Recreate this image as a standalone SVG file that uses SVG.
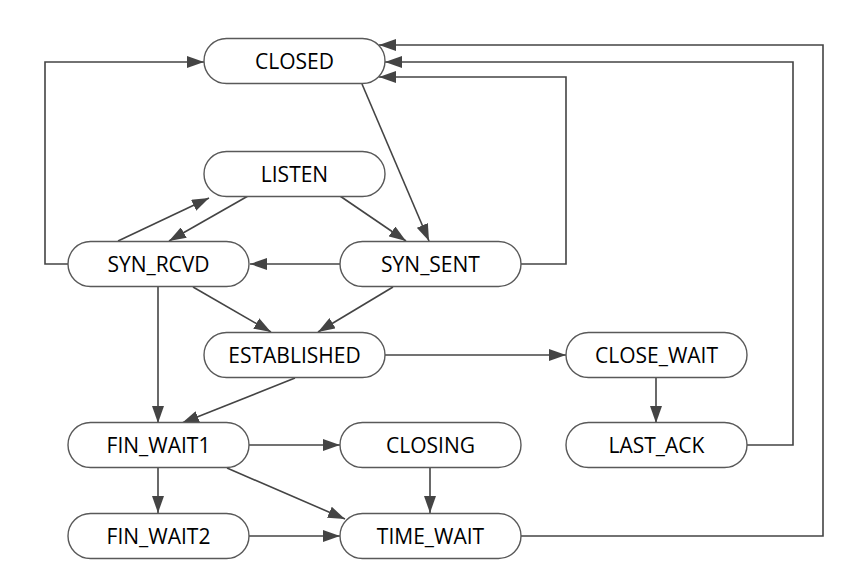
<svg xmlns="http://www.w3.org/2000/svg" width="860" height="586" viewBox="0 0 860 586">
<style>
.node rect{fill:#fff;stroke:#595959;stroke-width:1.4}
.node text{font-family:"Open Sans","Noto Sans",sans-serif;font-size:21px;fill:#000;text-anchor:middle}
.edges path{fill:none;stroke:#444;stroke-width:1.6}
</style>
<defs>
<marker id="arr" markerUnits="userSpaceOnUse" markerWidth="17" markerHeight="12" refX="17" refY="6" orient="auto">
<path d="M0,0 L17,6 L0,12 z" fill="#444"/>
</marker>
</defs>
<rect width="860" height="586" fill="#fff"/>
<g class="edges" marker-end="url(#arr)">
<path d="M362,84 L429,241" marker-end="url(#arr)"/>
<path d="M340,196 L406,241" marker-end="url(#arr)"/>
<path d="M118,241 L209,198" marker-end="url(#arr)"/>
<path d="M248,196 L169,241" marker-end="url(#arr)"/>
<path d="M340,264 L250,264" marker-end="url(#arr)"/>
<path d="M193,287 L271,332" marker-end="url(#arr)"/>
<path d="M393,287 L318,332" marker-end="url(#arr)"/>
<path d="M158,287 L158,423" marker-end="url(#arr)"/>
<path d="M295,378 L182,423" marker-end="url(#arr)"/>
<path d="M385,355 L566,355" marker-end="url(#arr)"/>
<path d="M656,378 L656,423" marker-end="url(#arr)"/>
<path d="M249,445 L340,445" marker-end="url(#arr)"/>
<path d="M158,468 L158,513" marker-end="url(#arr)"/>
<path d="M227,468 L345,519" marker-end="url(#arr)"/>
<path d="M430,468 L430,513" marker-end="url(#arr)"/>
<path d="M249,536 L340,536" marker-end="url(#arr)"/>
<path d="M521,536 L823,536 L823,45 L379,45" marker-end="url(#arr)"/>
<path d="M747,445 L793,445 L793,62 L385,62" marker-end="url(#arr)"/>
<path d="M521,264 L566,264 L566,77 L379,77" marker-end="url(#arr)"/>
<path d="M68,264 L45,264 L45,62 L204,62" marker-end="url(#arr)"/>
</g>
<g id="closed" class="node"><rect x="204" y="38.5" width="181" height="45" rx="22.5"/><text x="294.5" y="68.5">CLOSED</text></g>
<g id="listen" class="node"><rect x="204" y="151.5" width="181" height="45" rx="22.5"/><text x="294.5" y="181.5">LISTEN</text></g>
<g id="syn_rcvd" class="node"><rect x="68" y="241.5" width="181" height="45" rx="22.5"/><text x="158.5" y="271.5">SYN_RCVD</text></g>
<g id="syn_sent" class="node"><rect x="340" y="241.5" width="181" height="45" rx="22.5"/><text x="430.5" y="271.5">SYN_SENT</text></g>
<g id="established" class="node"><rect x="204" y="332.5" width="181" height="45" rx="22.5"/><text x="294.5" y="362.5">ESTABLISHED</text></g>
<g id="close_wait" class="node"><rect x="566" y="332.5" width="181" height="45" rx="22.5"/><text x="656.5" y="362.5">CLOSE_WAIT</text></g>
<g id="fin_wait1" class="node"><rect x="68" y="422.5" width="181" height="45" rx="22.5"/><text x="158.5" y="452.5">FIN_WAIT1</text></g>
<g id="closing" class="node"><rect x="340" y="422.5" width="181" height="45" rx="22.5"/><text x="430.5" y="452.5">CLOSING</text></g>
<g id="last_ack" class="node"><rect x="566" y="422.5" width="181" height="45" rx="22.5"/><text x="656.5" y="452.5">LAST_ACK</text></g>
<g id="fin_wait2" class="node"><rect x="68" y="513.5" width="181" height="45" rx="22.5"/><text x="158.5" y="543.5">FIN_WAIT2</text></g>
<g id="time_wait" class="node"><rect x="340" y="513.5" width="181" height="45" rx="22.5"/><text x="430.5" y="543.5">TIME_WAIT</text></g>
</svg>
